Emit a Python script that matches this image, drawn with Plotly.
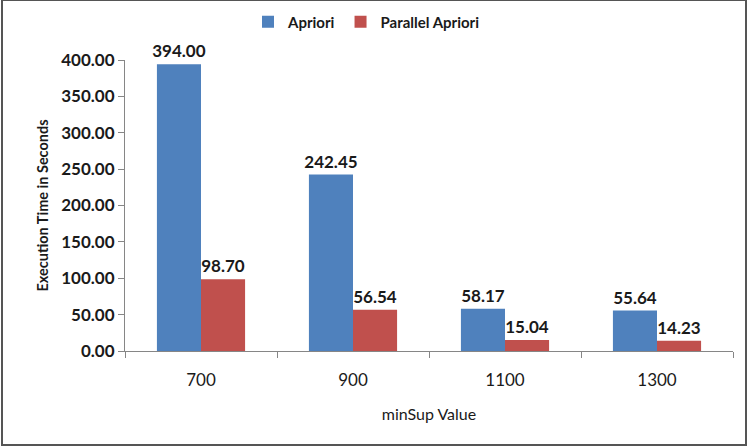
import plotly.graph_objects as go

categories = ["700", "900", "1100", "1300"]
apriori = [394.00, 242.45, 58.17, 55.64]
parallel_apriori = [98.70, 56.54, 15.04, 14.23]
y_ticks = [0, 50, 100, 150, 200, 250, 300, 350, 400]
y_tick_labels = [f"{v:.2f}" for v in y_ticks]

FONT = "Lato, 'Liberation Sans', sans-serif"
INK = "#1a1a1a"

W, H = 749, 447
ml, mr, mt, mb = 125, 16, 60, 96
pw = W - ml - mr
ph = H - mt - mb
def px_x(px):
    return (px - ml) / pw
def px_y(py):
    return 1 - (py - mt) / ph

fig = go.Figure()
fig.add_trace(go.Bar(
    name="Apriori", x=categories, y=apriori,
    marker=dict(color="#4F81BD", line=dict(width=0)),
    text=[f"{v:.2f}" for v in apriori], textposition="outside",
    textfont=dict(family=FONT, size=17, color=INK, weight="bold"),
    cliponaxis=False,
))
fig.add_trace(go.Bar(
    name="Parallel Apriori", x=categories, y=parallel_apriori,
    marker=dict(color="#C0504D", line=dict(width=0)),
    text=[f"{v:.2f}" for v in parallel_apriori], textposition="outside",
    textfont=dict(family=FONT, size=17, color=INK, weight="bold"),
    cliponaxis=False,
))

fig.update_layout(
    width=W, height=H,
    margin=dict(l=ml, r=mr, t=mt, b=mb, autoexpand=False),
    paper_bgcolor="white", plot_bgcolor="white",
    barmode="group", bargap=0.42, bargroupgap=0,
    uniformtext=dict(minsize=17, mode="show"),
    font=dict(family=FONT, color=INK),
    legend=dict(
        orientation="h", x=px_x(248), xanchor="left", y=px_y(22), yanchor="middle",
        font=dict(family=FONT, size=15, color=INK, weight="bold"),
        bgcolor="rgba(0,0,0,0)", itemwidth=30,
    ),
    xaxis=dict(
        showline=True, linecolor="#868686", linewidth=1,
        ticks="outside", ticklen=6, tickcolor="#868686", tickson="boundaries",
        tickfont=dict(family=FONT, size=17, color=INK),
        ticklabelstandoff=14,
        title=dict(text="minSup Value", font=dict(family=FONT, size=16, color=INK), standoff=19),
        showgrid=False,
    ),
    yaxis=dict(
        range=[0, 400], tickvals=y_ticks, ticktext=y_tick_labels,
        showline=True, linecolor="#868686", linewidth=1,
        ticks="outside", ticklen=6, tickcolor="#868686",
        tickfont=dict(family=FONT, size=17, color=INK, weight="bold"),
        ticklabelstandoff=0,
        title=dict(text="<b>Execution Time in Seconds</b>", font=dict(family=FONT, size=14.5, color=INK), standoff=9),
        showgrid=False, zeroline=False,
    ),
)

# outer frame of the image
fig.add_shape(type="rect", xref="paper", yref="paper",
              x0=px_x(2), x1=px_x(746), y0=px_y(0), y1=px_y(445),
              line=dict(color="#555555", width=2), fillcolor="rgba(0,0,0,0)", layer="below")

fig.write_html("out.html", config={"displayModeBar": False},
               post_script="document.body.style.margin='0';")
